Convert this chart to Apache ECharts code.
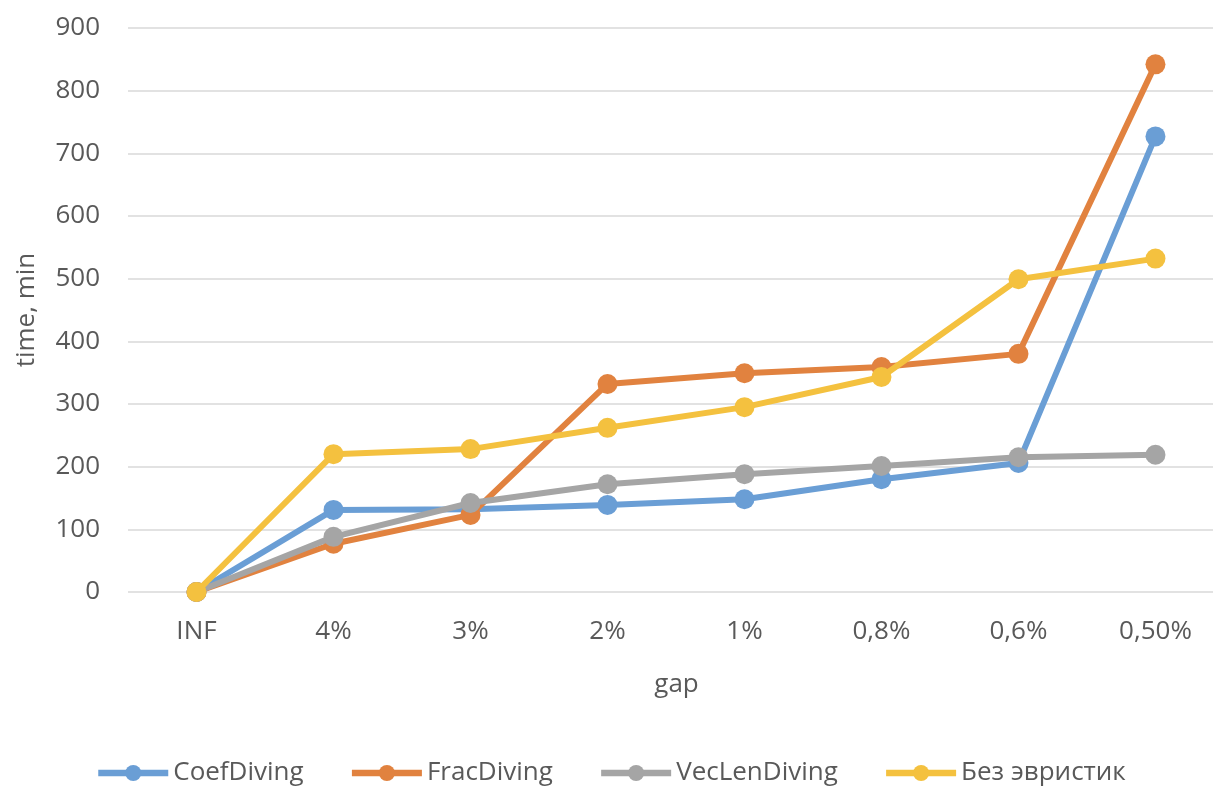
<!DOCTYPE html>
<html>
<head>
<meta charset="utf-8">
<script src="https://cdn.jsdelivr.net/npm/echarts@6/dist/echarts.min.js"></script>
<style>
  html, body { margin: 0; padding: 0; background: #ffffff; }
  #chart { width: 1213px; height: 787px; }
</style>
</head>
<body>
<div id="chart"></div>
<script>
// Gap thresholds along the x axis
const categories = ['INF', '4%', '3%', '2%', '1%', '0,8%', '0,6%', '0,50%'];

// Solve time (minutes) per heuristic
const coefDiving   = [0, 131, 132, 139, 148, 180, 206, 727];
const fracDiving   = [0, 77, 123, 332, 349, 359, 380, 842];
const vecLenDiving = [0, 88, 142, 172, 188, 201, 215, 219];
const noHeuristics = [0, 220, 228, 262, 295, 343, 499, 532];

const seriesNames = ['CoefDiving', 'FracDiving', 'VecLenDiving', 'Без эвристик'];
const seriesData = [coefDiving, fracDiving, vecLenDiving, noHeuristics];
const colors = ['#6A9ED5', '#E1823F', '#A5A5A5', '#F4C13F'];

const yTicks = { min: 0, max: 900, interval: 100 };

const textColor = '#595959';
const fontFamily = '"Open Sans", "Noto Sans", sans-serif';

// Categories are laid out on a numeric axis (one unit per category, half a unit
// of padding on the left) so the last slot can run off the right border.
const categoryIndex = categories.map((_, i) => i);

const chart = echarts.init(document.getElementById('chart'), null, { renderer: 'canvas' });

chart.setOption({
  animation: false,
  backgroundColor: '#ffffff',
  color: colors,
  textStyle: { fontFamily: fontFamily },
  grid: { left: 128, right: 0, top: 28, bottom: 195, containLabel: false },
  legend: {
    top: 760,
    left: 95,
    padding: 0,
    itemWidth: 70,
    itemHeight: 20,
    itemGap: 45,
    lineStyle: { width: 6.5 },
    textStyle: { color: textColor, fontSize: 26, fontFamily: fontFamily },
    data: seriesNames
  },
  xAxis: {
    type: 'value',
    min: -0.5,
    max: 7.42,
    name: 'gap',
    nameLocation: 'middle',
    nameGap: 80,
    nameTextStyle: { color: textColor, fontSize: 26, fontFamily: fontFamily, padding: [0, 0, 0, 12] },
    axisLine: { show: false },
    axisTick: { show: false },
    splitLine: { show: false },
    axisLabel: {
      customValues: categoryIndex,
      formatter: (v) => categories[Math.round(v)],
      color: textColor, fontSize: 26, margin: 27, fontFamily: fontFamily
    }
  },
  yAxis: {
    type: 'value',
    min: yTicks.min,
    max: yTicks.max,
    interval: yTicks.interval,
    name: 'time, min',
    nameLocation: 'middle',
    nameGap: 88,
    nameRotate: 90,
    nameTextStyle: { color: textColor, fontSize: 26, fontFamily: fontFamily },
    axisLine: { show: false },
    axisTick: { show: false },
    axisLabel: { color: textColor, fontSize: 26, margin: 28, fontFamily: fontFamily },
    splitLine: { lineStyle: { color: '#D9D9D9', width: 1.5 } }
  },
  series: seriesNames.map((name, i) => ({
    name: name,
    type: 'line',
    data: seriesData[i].map((v, j) => [categoryIndex[j], v]),
    symbol: 'circle',
    symbolSize: 20,
    showSymbol: true,
    lineStyle: { width: 6, color: colors[i] },
    itemStyle: { color: colors[i] },
    z: 2 + i
  }))
});
</script>
</body>
</html>
